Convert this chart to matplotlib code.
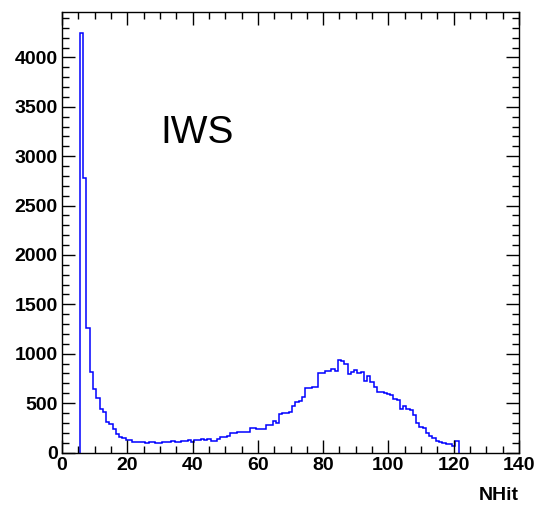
import numpy as np
import matplotlib
matplotlib.use("Agg")
import matplotlib.pyplot as plt
from matplotlib.ticker import MultipleLocator

# NHit distribution (bin centres start at 6, unit-width bins)
first_nhit = 6
counts = [
    4250, 2780, 1265, 815, 640, 555, 445, 415, 312, 285,
    235, 185, 160, 150, 130, 125, 110, 108, 111, 111,
    98, 111, 111, 98, 98, 110, 111, 110, 112, 111,
    110, 112, 118, 128, 105, 122, 122, 139, 125, 139,
    115, 115, 132, 159, 159, 169, 196, 196, 203, 203,
    205, 212, 245, 245, 235, 235, 235, 280, 282, 318,
    300, 385, 399, 399, 412, 473, 514, 524, 560, 656,
    656, 659, 659, 800, 804, 825, 828, 842, 825, 936,
    929, 900, 795, 820, 834, 800, 811, 726, 777, 709,
    660, 615, 608, 600, 591, 585, 545, 530, 440, 470,
    439, 430, 375, 300, 262, 252, 195, 165, 145, 118,
    102, 100, 88, 82, 70, 118,
]
x_ticks = [0, 20, 40, 60, 80, 100, 120, 140]
y_ticks = [0, 500, 1000, 1500, 2000, 2500, 3000, 3500, 4000]
label_text = "IWS"
x_title = "NHit"

centers = np.arange(first_nhit, first_nhit + len(counts))
edges = np.append(centers - 0.5, centers[-1] + 0.5)

W, H = 536, 508
fig = plt.figure(figsize=(W / 100, H / 100), dpi=100)
fig.patch.set_facecolor("white")
ax = fig.add_axes([62 / W, 1 - 452.5 / H, 457 / W, 440.5 / H])

ax.stairs(counts, edges, baseline=0, color=(0, 0, 1), linewidth=1.1, fill=False)

ax.set_xlim(0, 140)
ax.set_ylim(0, 4460)
ax.set_xticks(x_ticks)
ax.set_yticks(y_ticks)
ax.xaxis.set_minor_locator(MultipleLocator(5))
ax.yaxis.set_minor_locator(MultipleLocator(100))

tick_font = dict(family=["Liberation Sans", "DejaVu Sans"], weight="bold", size=14)
ax.set_xticklabels([str(v) for v in x_ticks], **tick_font)
ax.set_yticklabels([str(v) for v in y_ticks], **tick_font)

ax.tick_params(which="both", direction="in", top=True, right=True, colors="black")
ax.tick_params(which="major", length=9.5, width=1.0)
ax.tick_params(which="minor", length=5.2, width=1.0)
ax.tick_params(axis="x", which="major", pad=3)
ax.tick_params(axis="y", which="major", pad=3)

for s in ax.spines.values():
    s.set_linewidth(1.0)
    s.set_color("black")

fig.text(160 / W, 1 - 143 / H, label_text, family=["Liberation Sans", "DejaVu Sans"],
         fontsize=28, ha="left", va="baseline", color="black")

fig.text(519 / W, 1 - 500 / H, x_title, family=["Liberation Sans", "DejaVu Sans"],
         fontsize=14, weight="bold", ha="right", va="baseline", color="black")

fig.savefig("out.png", dpi=100, facecolor="white")
